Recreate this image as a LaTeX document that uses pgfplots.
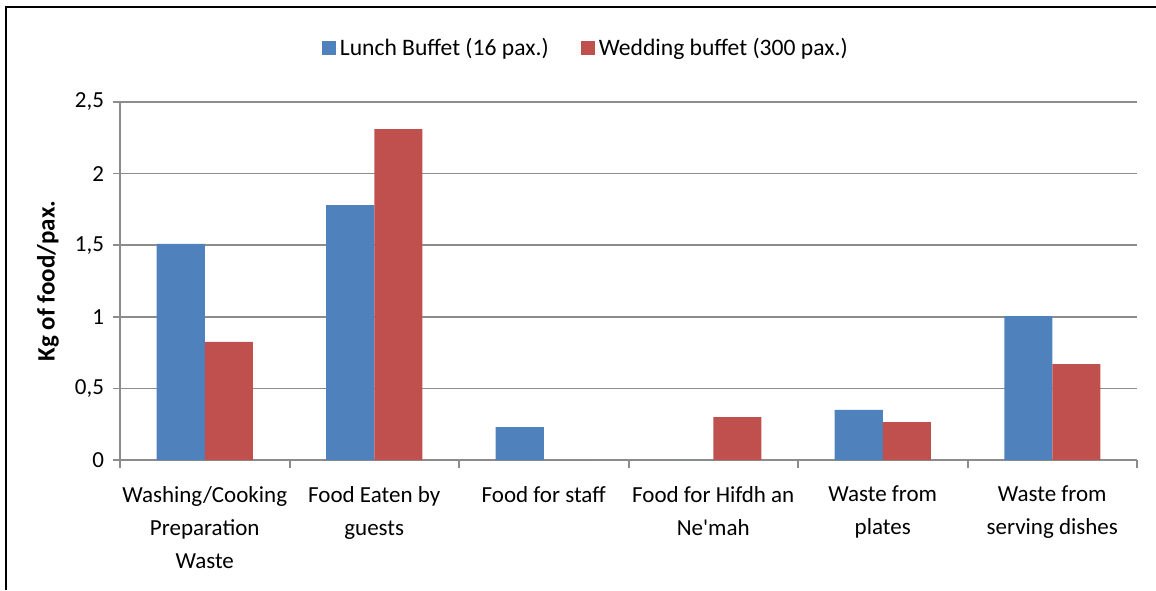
\documentclass[border=0pt]{standalone}
\usepackage{fontspec}
\setmainfont{Carlito}
\usepackage{pgfplots}
\pgfplotsset{compat=1.18}
\definecolor{lunch}{HTML}{4F81BD}
\definecolor{wedding}{HTML}{C0504D}
\definecolor{gridgray}{HTML}{8C8C8C}
\newcommand{\lbl}{\fontsize{11.5pt}{16.5pt}\selectfont}

\begin{document}
\begin{tikzpicture}
\path[use as bounding box] (0,0) rectangle (578pt,295pt);
% outer frame (cut off at right and bottom in the reference)
\draw[black, line width=1pt] (2.75pt,0) -- (2.75pt,291.5pt) -- (578pt,291.5pt);
\begin{axis}[
    at={(60pt,65pt)}, anchor=south west,
    scale only axis, width=508.5pt, height=179pt,
    ybar=0pt, bar width=24pt,
    xmin=-0.5, xmax=5.5, ymin=0, ymax=2.5,
    ytick={0,0.5,...,2.5},
    xtick={0,...,5},
    xticklabels={
        {Washing/Cooking\\Preparation\\Waste},
        {Food Eaten by\\guests},
        {Food for staff},
        {Food for Hifdh an\\Ne\textquotesingle mah},
        {Waste from\\plates},
        {Waste from\\serving dishes}},
    minor xtick={-0.5,0.5,...,5.5},
    major x tick style={draw=none},
    minor x tick style={draw=gridgray, line width=1pt},
    major y tick style={draw=gridgray, line width=0.75pt},
    tick align=outside,
    major tick length=3.5pt, minor tick length=4pt,
    axis x line*=bottom, axis y line*=left,
    x axis line style={draw=gridgray, line width=1.2pt, -},
    y axis line style={draw=gridgray, line width=0.8pt, -},
    ymajorgrids,
    grid style={draw=gridgray, line width=0.8pt},
    /pgf/number format/assume math mode=true,
    /pgf/number format/use comma,
    yticklabel style={font=\lbl, xshift=-1pt},
    xticklabel style={font=\lbl, align=center, yshift=-6pt},
    ylabel={\textbf{Kg of food/pax.}},
    ylabel style={font=\fontsize{12.5pt}{15pt}\selectfont,
        at={(axis description cs:-0.0708,0.5)}, anchor=center},
    legend columns=2,
    area legend,
    legend style={draw=none, fill=none, font=\fontsize{11.8pt}{15pt}\selectfont,
        at={(axis description cs:0.459,1.151)}, anchor=center,
        /tikz/every even column/.append style={column sep=14pt}},
    legend image code/.code={\fill[#1] (0pt,-3.5pt) rectangle (7pt,3.5pt);},
]
\addplot[fill=lunch, draw=none] coordinates {
    (0,1.51) (1,1.78) (2,0.23) (3,0) (4,0.35) (5,1.005)
};
\addlegendentry{Lunch Buffet (16 pax.)}
\addplot[fill=wedding, draw=none] coordinates {
    (0,0.825) (1,2.31) (2,0) (3,0.30) (4,0.265) (5,0.67)
};
\addlegendentry{Wedding buffet (300 pax.)}
\end{axis}
\end{tikzpicture}
\end{document}
